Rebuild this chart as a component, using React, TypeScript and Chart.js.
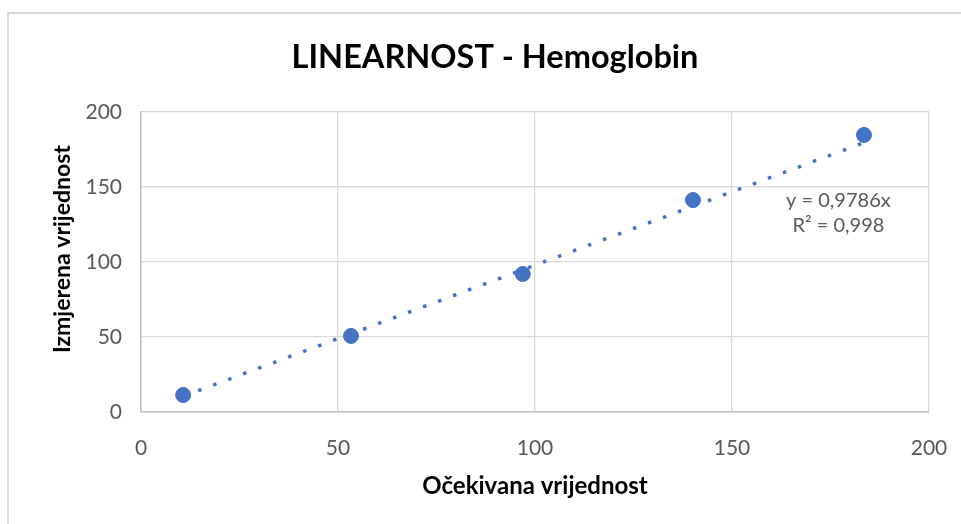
import React, { useEffect, useRef } from "react";
import { Chart, registerables } from "chart.js";

Chart.register(...registerables);

const TITLE = "LINEARNOST - Hemoglobin";
const X_TITLE = "Očekivana vrijednost";
const Y_TITLE = "Izmjerena vrijednost";
const expectedValues = [10.7, 53.3, 96.9, 140.1, 183.5];
const measuredValues = [11.3, 50.7, 92.0, 141.3, 184.7];
const trendSlope = 0.9786;
const trendXRange = [10.7, 183.5];
const equationLines = ["y = 0,9786x", "R² = 0,998"];
const equationAnchor = { x: 177, y: 141 };

const BLUE = "#4472C4";
const FONT = "Lato, 'Open Sans', sans-serif";

export default function App() {
  const ref = useRef<HTMLCanvasElement | null>(null);

  useEffect(() => {
    if (!ref.current) return;
    const points = expectedValues.map((x, i) => ({ x, y: measuredValues[i] }));
    const trend = trendXRange.map((x) => ({ x, y: trendSlope * x }));

    const framePlugin = {
      id: "frame",
      beforeDraw(chart: any) {
        const ctx = chart.ctx;
        ctx.save();
        ctx.fillStyle = "#ffffff";
        ctx.fillRect(0, 0, chart.width, chart.height);
        ctx.strokeStyle = "#d9d9d9";
        ctx.lineWidth = 2;
        ctx.beginPath();
        ctx.moveTo(8, chart.height);
        ctx.lineTo(8, 13);
        ctx.lineTo(chart.width, 13);
        ctx.stroke();
        ctx.restore();
      },
    };

    const textPlugin = {
      id: "extraText",
      afterDatasetsDraw(chart: any) {
        const ctx = chart.ctx;
        const xs = chart.scales.x;
        const ys = chart.scales.y;
        const cx = xs.getPixelForValue(equationAnchor.x);
        const cy = ys.getPixelForValue(equationAnchor.y);
        ctx.save();
        ctx.font = `20px ${FONT}`;
        ctx.fillStyle = "#595959";
        ctx.textAlign = "center";
        ctx.textBaseline = "middle";
        equationLines.forEach((t, i) => ctx.fillText(t, cx, cy + i * 25));
        ctx.restore();

        // y axis title
        ctx.save();
        ctx.font = `bold 23px ${FONT}`;
        ctx.fillStyle = "#000000";
        ctx.textAlign = "center";
        ctx.textBaseline = "middle";
        ctx.translate(63, chart.chartArea.top + (chart.chartArea.bottom - chart.chartArea.top) * 0.457);
        ctx.rotate(-Math.PI / 2);
        ctx.fillText(Y_TITLE, 0, 0);
        ctx.restore();
      },
    };

    const chart = new Chart(ref.current, {
      type: "scatter",
      data: {
        datasets: [
          {
            type: "line",
            label: "Trend",
            data: trend,
            borderColor: BLUE,
            borderWidth: 3.5,
            borderDash: [3.5, 12.5],
            borderCapStyle: "butt",
            pointRadius: 0,
            fill: false,
            order: 2,
          },
          {
            label: "Hemoglobin",
            data: points,
            backgroundColor: BLUE,
            borderColor: BLUE,
            pointRadius: 7.5,
            pointHoverRadius: 7.5,
            order: 1,
          },
        ],
      },
      plugins: [framePlugin, textPlugin],
      options: {
        responsive: false,
        animation: false,
        layout: { padding: { left: 61, right: 32, top: 0, bottom: 23 } },
        plugins: {
          legend: { display: false },
          tooltip: { enabled: false },
          title: {
            display: true,
            text: TITLE,
            color: "#000000",
            font: { family: FONT, size: 32.5, weight: "bold" },
            padding: { top: 38, bottom: 35 },
          },
        },
        scales: {
          x: {
            type: "linear",
            min: 0,
            max: 200,
            ticks: {
              stepSize: 50,
              color: "#595959",
              font: { family: FONT, size: 21 },
              padding: 24,
            },
            grid: { color: "#d9d9d9", lineWidth: 1.3, drawTicks: false },
            border: { color: "#bfbfbf", width: 1.5 },
            title: {
              display: true,
              text: X_TITLE,
              color: "#000000",
              font: { family: FONT, size: 24, weight: "bold" },
              padding: { top: 0, bottom: 0 },
            },
            afterFit(scale: any) {
              scale.height = 89;
              scale.paddingLeft = 0;
              scale.paddingRight = 0;
            },
          },
          y: {
            type: "linear",
            min: 0,
            max: 200,
            ticks: {
              stepSize: 50,
              color: "#595959",
              font: { family: FONT, size: 21 },
              padding: 19,
            },
            grid: { color: "#d9d9d9", lineWidth: 1.3, drawTicks: false },
            border: { color: "#bfbfbf", width: 1.5 },
            title: { display: false, text: Y_TITLE },
            afterFit(scale: any) {
              scale.width = 80;
              scale.paddingTop = 0;
              scale.paddingBottom = 0;
            },
          },
        },
      },
    } as any);

    return () => chart.destroy();
  }, []);

  return (
    <div style={{ position: "absolute", left: 0, top: 0, width: 961, height: 524 }}>
      <canvas ref={ref} width={961} height={524} style={{ display: "block" }} />
    </div>
  );
}
